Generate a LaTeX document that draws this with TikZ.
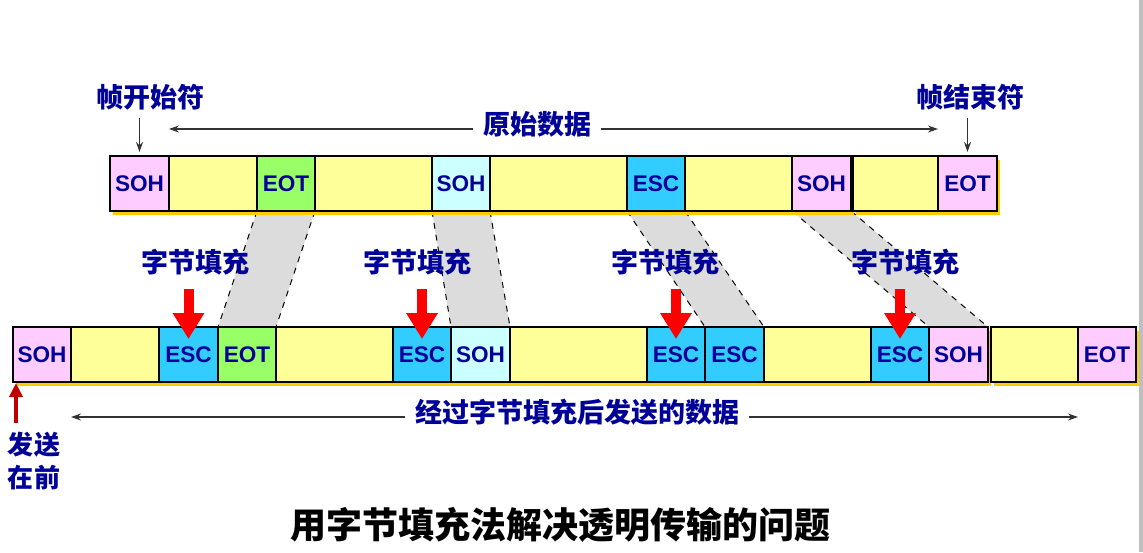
\documentclass[tikz,border=0pt]{standalone}
\usepackage{fontspec}
\setsansfont{Liberation Sans}
\newfontfamily\cjk{Noto Sans CJK SC}
\usepackage{tikz}
\usepackage{xcolor}
\usetikzlibrary{arrows.meta,positioning,shadows,backgrounds}

\definecolor{navy}{HTML}{000099}
\definecolor{sohpink}{HTML}{FFCCFF}
\definecolor{sohcyan}{HTML}{CCFFFF}
\definecolor{datayellow}{HTML}{FFFF99}
\definecolor{eotgreen}{HTML}{99FF66}
\definecolor{escblue}{HTML}{33CCFF}
\definecolor{shadowgold}{HTML}{FFCC00}
\definecolor{bandgray}{HTML}{DCDCDC}
\definecolor{darkred}{HTML}{C00000}

\begin{document}
\begin{tikzpicture}[
    x=0.5pt, y=-0.5pt,
    cell/.style={draw, line width=0.6pt, minimum height=27.5pt, inner sep=0pt, outer sep=0pt,
        text=navy, font=\sffamily\bfseries\fontsize{11.3}{13}\selectfont,
        drop shadow={shadow xshift=1.5pt, shadow yshift=-2pt, fill=shadowgold, opacity=1}},
    wd/.style={minimum width=#1},
    soh/.style={cell, fill=sohpink},
    sohalt/.style={cell, fill=sohcyan},
    payload/.style={cell, fill=datayellow},
    eot/.style={cell, fill=eotgreen},
    eotend/.style={cell, fill=sohpink},
    esc/.style={cell, fill=escblue},
    note/.style={text=navy, inner sep=0pt, font=\cjk\bfseries\fontsize{13.5}{15}\selectfont},
    headline/.style={inner sep=0pt, font=\cjk\bfseries\fontsize{18}{20}\selectfont},
    thinarrow/.style={-{Stealth[length=5pt,width=3.5pt]}, line width=0.6pt, black!80},
    stuffarrow/.style={-{Triangle[width=15pt,length=13pt]}, line width=5pt, red},
    sendarrow/.style={-{Triangle[width=6.5pt,length=7pt]}, line width=2pt, darkred},
    band/.style={fill=bandgray},
    bandedge/.style={dashed, line width=0.5pt}
]
\useasboundingbox (0,0) rectangle (1143,552);
\fill[black!25] (1139,0) rectangle (1143,552);

% original frame
\node[soh, wd=29.5pt, anchor=west] (t1) at (110,183.5) {SOH};
\node[payload, wd=44pt, right=0pt of t1] (t2) {};
\node[eot, wd=29pt, right=0pt of t2] (t3) {EOT};
\node[payload, wd=58.5pt, right=0pt of t3] (t4) {};
\node[sohalt, wd=29pt, right=0pt of t4] (t5) {SOH};
\node[payload, wd=68.5pt, right=0pt of t5] (t6) {};
\node[esc, wd=29pt, right=0pt of t6] (t7) {ESC};
\node[payload, wd=53.5pt, right=0pt of t7] (t8) {};
\node[soh, wd=29.5pt, right=0pt of t8] (t9) {SOH};
\node[payload, wd=42.5pt, right=1pt of t9] (t10) {};
\node[eotend, wd=29.5pt, right=0pt of t10] (t11) {EOT};

% stuffed frame
\node[soh, wd=29pt, anchor=west] (b1) at (13,354.5) {SOH};
\node[payload, wd=44pt, right=0pt of b1] (b2) {};
\node[esc, wd=29.5pt, right=0pt of b2] (b3) {ESC};
\node[eot, wd=29pt, right=0pt of b3] (b4) {EOT};
\node[payload, wd=58.5pt, right=0pt of b4] (b5) {};
\node[esc, wd=29pt, right=0pt of b5] (b6) {ESC};
\node[sohalt, wd=29.5pt, right=0pt of b6] (b7) {SOH};
\node[payload, wd=68.5pt, right=0pt of b7] (b8) {};
\node[esc, wd=29pt, right=0pt of b8] (b9) {ESC};
\node[esc, wd=29.5pt, right=0pt of b9] (b10) {ESC};
\node[payload, wd=53.5pt, right=0pt of b10] (b11) {};
\node[esc, wd=29pt, right=0pt of b11] (b12) {ESC};
\node[soh, wd=29.5pt, right=0pt of b12] (b13) {SOH};
\node[payload, wd=43.5pt, right=1.5pt of b13] (b14) {};
\node[eotend, wd=29pt, right=0pt of b14] (b15) {EOT};

% labels
\node[note] (startlbl) at (150,97) {帧开始符};
\node[note] (endlbl) at (970,97) {帧结束符};
\node[note] (rawlbl) at (537,124) {原始数据};
\node[note] (stuff1) at (195,262) {字节填充};
\node[note] (stuff2) at (417,262) {字节填充};
\node[note] (stuff3) at (665,262) {字节填充};
\node[note] (stuff4) at (905,262) {字节填充};
\node[note] (sentlbl) at (577,412) {经过字节填充后发送的数据};
\node[note, align=center, font=\cjk\bfseries\fontsize{13}{16.5}\selectfont] (firstlbl) at (34,461) {发送\\在前};
\node[headline] (caption) at (560,525) {用字节填充法解决透明传输的问题};

% shifted bytes
\begin{scope}[on background layer]
\fill[band] (t3.south west) -- (t3.south east) -- (b4.north east) -- (b4.north west) -- cycle;
\fill[band] (t5.south west) -- (t5.south east) -- (b7.north east) -- (b7.north west) -- cycle;
\fill[band] (t7.south west) -- (t7.south east) -- (b10.north east) -- (b10.north west) -- cycle;
\fill[band] (t9.south west) -- (t9.south east) -- (b13.north east) -- (b13.north west) -- cycle;
\draw[bandedge] (t3.south west) -- (b4.north west) (t3.south east) -- (b4.north east);
\draw[bandedge] (t5.south west) -- (b7.north west) (t5.south east) -- (b7.north east);
\draw[bandedge] (t7.south west) -- (b10.north west) (t7.south east) -- (b10.north east);
\draw[bandedge] (t9.south west) -- (b13.north west) (t9.south east) -- (b13.north east);
\end{scope}

% Connections
\draw[thinarrow, shorten <=4pt, shorten >=2pt] (t1.north |- startlbl.south) -- (t1.north);
\draw[thinarrow, shorten <=4pt, shorten >=2pt] (t11.north |- endlbl.south) -- (t11.north);
\draw[thinarrow] ([xshift=-5pt,yshift=-2.5pt]rawlbl.west) -- ([yshift=-2.5pt]rawlbl.west -| t1.east);
\draw[thinarrow] ([xshift=5pt,yshift=-2.5pt]rawlbl.east) -- ([yshift=-2.5pt]rawlbl.east -| t11.west);
\draw[thinarrow] ([xshift=-5pt,yshift=-2.5pt]sentlbl.west) -- ([yshift=-2.5pt]sentlbl.west -| b2.west);
\draw[thinarrow] ([xshift=5pt,yshift=-2.5pt]sentlbl.east) -- ([yshift=-2.5pt]sentlbl.east -| b15.west);

\draw[stuffarrow] ([yshift=19pt]b3.north) -- ([yshift=-6pt]b3.north);
\draw[stuffarrow] ([yshift=19pt]b6.north) -- ([yshift=-6pt]b6.north);
\draw[stuffarrow] ([yshift=19pt]b9.north) -- ([yshift=-6pt]b9.north);
\draw[stuffarrow] ([yshift=19pt]b12.north) -- ([yshift=-6pt]b12.north);

\draw[sendarrow] ([xshift=1.5pt,yshift=-20.5pt]b1.south west) -- ([xshift=1.5pt,yshift=-0.5pt]b1.south west);

\end{tikzpicture}
\end{document}
